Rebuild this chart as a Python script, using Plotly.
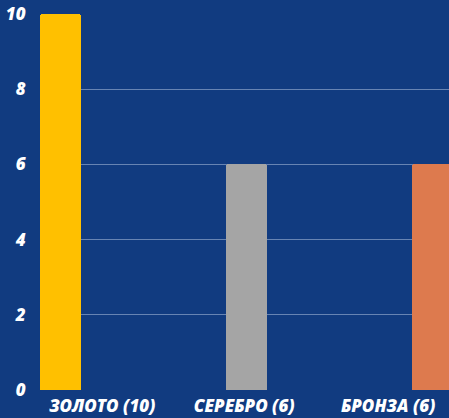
import plotly.graph_objects as go

categories = ["ЗОЛОТО (10)", "СЕРЕБРО (6)", "БРОНЗА (6)"]
medals = [10, 6, 6]
colors = ["#ffc000", "#a5a5a5", "#dd7a4e"]
y_ticks = [0, 2, 4, 6, 8, 10]

bar_pos = list(range(len(categories)))
label_pos = [0.335, 1.098, 1.872]

fig = go.Figure()
fig.add_trace(go.Bar(
    x=bar_pos, y=medals, width=0.22, offset=0,
    marker=dict(color=colors, line=dict(width=0), cornerradius=3),
    hoverinfo="skip",
))

fam = "Open Sans, sans-serif"
fig.update_layout(
    width=449, height=418,
    margin=dict(l=40, r=0, t=14, b=28),
    paper_bgcolor="#113b80",
    plot_bgcolor="#113b80",
    showlegend=False,
    bargap=0,
    xaxis=dict(
        range=[0, 2.199], showgrid=False, zeroline=False, showline=False,
        tickmode="array", tickvals=label_pos, ticktext=categories,
        tickfont=dict(family=fam, size=17, color="white", weight=800, style="italic"),
        ticks="outside", ticklen=1, tickcolor="rgba(0,0,0,0)",
        fixedrange=True,
    ),
    yaxis=dict(
        range=[0, 10], tickmode="array", tickvals=y_ticks,
        showgrid=True, gridcolor="rgba(190,205,230,0.5)", gridwidth=1,
        zeroline=False, showline=False,
        tickfont=dict(family=fam, size=17, color="white", weight=800, style="italic"),
        ticks="outside", ticklen=10, tickcolor="rgba(0,0,0,0)",
        fixedrange=True,
    ),
)

fig.write_html("out.html", config={"displayModeBar": False},
               post_script="document.body.style.margin='0';")
